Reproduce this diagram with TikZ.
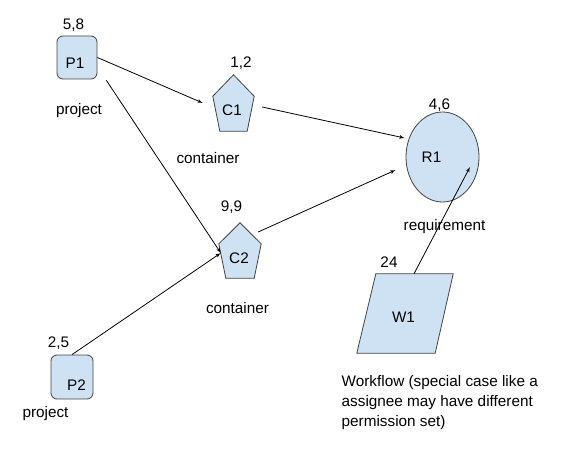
\documentclass[tikz,border=0pt]{standalone}
\usepackage{fontspec}
\setmainfont{Liberation Sans}
\usetikzlibrary{shapes,arrows,calc,backgrounds}
\definecolor{lightblue}{HTML}{CFE2F3}
\definecolor{edgegray}{HTML}{434343}
\tikzstyle{project} = [rectangle, draw=edgegray, fill=lightblue, 
    rounded corners=6pt, inner sep=0pt, line width=0.8pt]
\tikzstyle{container} = [rectangle, inner sep=0pt]
\tikzstyle{require} = [ellipse, draw=edgegray, fill=lightblue, 
    inner sep=0pt, line width=0.8pt]
\tikzstyle{workflow} = [rectangle, inner sep=0pt]
\tikzstyle{outline} = [draw=edgegray, fill=lightblue, line width=0.8pt]
\tikzstyle{line} = [draw, -latex', line width=0.8pt]
\tikzstyle{tag} = [anchor=base, inner sep=0pt]

\begin{document}
\begin{tikzpicture}[x=1pt, y=-1pt, font=\fontsize{15.3}{20}\selectfont]
    \useasboundingbox (0,0) rectangle (579,460);
    % Place nodes
    \node [project, minimum width=40pt, minimum height=43pt,
        label={[xshift=-2pt, yshift=-5.5pt]center:P1}] (P1) at (77,57.5) {};
    \node [project, minimum width=42pt, minimum height=44pt,
        label={[xshift=4.5pt, yshift=-8pt]center:P2}] (P2) at (72,377) {};
    \node [container, minimum width=41pt, minimum height=56pt,
        label={[xshift=-1.5pt, yshift=-7pt]center:C1}] (C1) at (233.5,103) {};
    \node [container, minimum width=42pt, minimum height=55pt,
        label={[xshift=-1pt, yshift=-8pt]center:C2}] (C2) at (240,250.5) {};
    \node [require, minimum width=73pt, minimum height=90pt,
        label={[xshift=-11pt]center:R1}] (R1) at (442.5,157) {};
    \node [workflow, minimum width=96pt, minimum height=79pt,
        label={[xshift=-1.5pt, yshift=-3.5pt]center:W1}] (W1) at (405,313.5) {};
    % Texts round the nodes
    \node [tag] (P1num) at (73.5,30) {5,8};
    \node [tag] (P1txt) at (79,114) {project};
    \node [tag] (C1num) at (241,68) {1,2};
    \node [tag] (C1txt) at (208,163) {container};
    \node [tag] (C2num) at (231.5,211) {9,9};
    \node [tag] (C2txt) at (237.5,313) {container};
    \node [tag] (P2num) at (58.5,347) {2,5};
    \node [tag] (P2txt) at (45.5,417) {project};
    \node [tag] (R1num) at (439.5,110) {4,6};
    \node [tag] (R1txt) at (444.5,230) {requirement};
    \node [tag] (W1num) at (389,267) {24};
    \node [anchor=north west, inner sep=0pt, align=left] (W1txt) at (341.5,375.5)
        {Workflow (special case like a\\assignee may have different\\permission set)};
    % Shapes behind the C and W nodes
    \begin{scope}[on background layer]
        \foreach \c in {C1,C2}
            \path [outline] (\c.north) -- ($(\c.north west)!0.38!(\c.south west)$)
                -- ($(\c.south west)+(7,0)$) -- ($(\c.south east)+(-7,0)$)
                -- ($(\c.north east)!0.38!(\c.south east)$) -- cycle;
        \path [outline] ($(W1.north west)+(19,0)$) -- (W1.north east)
            -- ($(W1.south east)+(-18,0)$) -- (W1.south west) -- cycle;
    \end{scope}
    % Free ends of the edges
    \coordinate (c1in) at ($(C1.west)+(-10,0)$);
    \coordinate (c1out) at ($(C1.east)+(8,4)$);
    \coordinate (p1out) at ($(P1.south east)+(9,1)$);
    \coordinate (c2in) at ($(C2.west)+(2,2.5)$);
    \coordinate (c2out) at ($(C2.east)+(-3,-18.5)$);
    \coordinate (r1top) at ($(R1.west)+(-1,-19)$);
    \coordinate (r1left) at ($(R1.west)+(-10,13)$);
    \coordinate (r1in) at ($(R1.center)+(27.5,10)$);
    \coordinate (w1top) at ($(W1.north)+(9,0)$);
    % Draw edges
    \path [line] (P1.east) -- (c1in);
    \path [line] (p1out) -- (c2in);
    \path [line] (P2.north) -- (c2in);
    \path [line] (c1out) -- (r1top);
    \path [line] (c2out) -- (r1left);
    \path [line] (w1top) -- (r1in);
\end{tikzpicture}
\end{document}
